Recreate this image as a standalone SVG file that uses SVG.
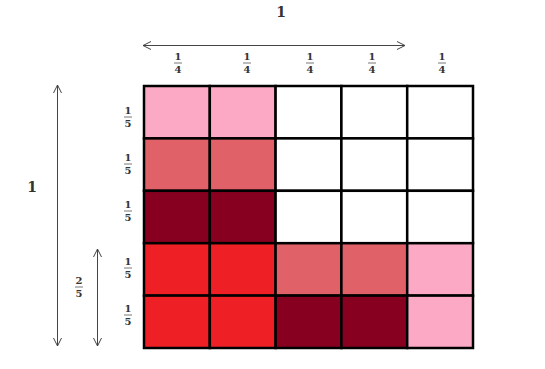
<svg xmlns="http://www.w3.org/2000/svg" width="545" height="369" viewBox="0 0 545 369">
<defs>
<style>
.t{font-family:"DejaVu Serif","Liberation Serif",serif;font-weight:bold;fill:#333;text-anchor:middle}
.f{font-size:10px}
.big{font-size:14px}
.bar{stroke:#555;stroke-width:0.8}
.ar{stroke:#444;stroke-width:1;fill:none}
.c{stroke:#000;stroke-width:2.5}
.lp{fill:#FBA9C5}.md{fill:#E06167}.dk{fill:#880020}.rd{fill:#EE2026}.wh{fill:#fff}
</style>
<marker id="ah" viewBox="0 0 10 10" refX="9" refY="5" markerWidth="10" markerHeight="10" markerUnits="userSpaceOnUse" orient="auto-start-reverse">
<path d="M1,1 L9,5 L1,9" fill="none" stroke="#444" stroke-width="1"/>
</marker>
</defs>
<rect width="545" height="369" fill="#fff"/>
<g id="connectors">
<line class="ar" x1="143" y1="45.5" x2="405" y2="45.5" marker-start="url(#ah)" marker-end="url(#ah)"/>
<line class="ar" x1="57.5" y1="85" x2="57.5" y2="346" marker-start="url(#ah)" marker-end="url(#ah)"/>
<line class="ar" x1="97.5" y1="249" x2="97.5" y2="346" marker-start="url(#ah)" marker-end="url(#ah)"/>
</g>
<g id="grid">
<rect class="c lp" x="144" y="86" width="65.8" height="52.4"/>
<rect class="c lp" x="209.8" y="86" width="65.8" height="52.4"/>
<rect class="c wh" x="275.6" y="86" width="65.8" height="52.4"/>
<rect class="c wh" x="341.4" y="86" width="65.8" height="52.4"/>
<rect class="c wh" x="407.2" y="86" width="65.8" height="52.4"/>
<rect class="c md" x="144" y="138.4" width="65.8" height="52.4"/>
<rect class="c md" x="209.8" y="138.4" width="65.8" height="52.4"/>
<rect class="c wh" x="275.6" y="138.4" width="65.8" height="52.4"/>
<rect class="c wh" x="341.4" y="138.4" width="65.8" height="52.4"/>
<rect class="c wh" x="407.2" y="138.4" width="65.8" height="52.4"/>
<rect class="c dk" x="144" y="190.8" width="65.8" height="52.4"/>
<rect class="c dk" x="209.8" y="190.8" width="65.8" height="52.4"/>
<rect class="c wh" x="275.6" y="190.8" width="65.8" height="52.4"/>
<rect class="c wh" x="341.4" y="190.8" width="65.8" height="52.4"/>
<rect class="c wh" x="407.2" y="190.8" width="65.8" height="52.4"/>
<rect class="c rd" x="144" y="243.2" width="65.8" height="52.4"/>
<rect class="c rd" x="209.8" y="243.2" width="65.8" height="52.4"/>
<rect class="c md" x="275.6" y="243.2" width="65.8" height="52.4"/>
<rect class="c md" x="341.4" y="243.2" width="65.8" height="52.4"/>
<rect class="c lp" x="407.2" y="243.2" width="65.8" height="52.4"/>
<rect class="c rd" x="144" y="295.6" width="65.8" height="52.4"/>
<rect class="c rd" x="209.8" y="295.6" width="65.8" height="52.4"/>
<rect class="c dk" x="275.6" y="295.6" width="65.8" height="52.4"/>
<rect class="c dk" x="341.4" y="295.6" width="65.8" height="52.4"/>
<rect class="c lp" x="407.2" y="295.6" width="65.8" height="52.4"/>
</g>
<g id="labels">
<text class="t big" x="281" y="17">1</text>
<text class="t big" x="32" y="192">1</text>
<g id="top-fractions">
<text class="t f" x="178" y="60">1</text><line class="bar" x1="174" y1="63" x2="182" y2="63"/><text class="t f" x="178" y="73">4</text>
<text class="t f" x="247" y="60">1</text><line class="bar" x1="243" y1="63" x2="251" y2="63"/><text class="t f" x="247" y="73">4</text>
<text class="t f" x="310" y="60">1</text><line class="bar" x1="306" y1="63" x2="314" y2="63"/><text class="t f" x="310" y="73">4</text>
<text class="t f" x="372" y="60">1</text><line class="bar" x1="368" y1="63" x2="376" y2="63"/><text class="t f" x="372" y="73">4</text>
<text class="t f" x="442" y="60">1</text><line class="bar" x1="438" y1="63" x2="446" y2="63"/><text class="t f" x="442" y="73">4</text>
</g>
<g id="left-fractions">
<text class="t f" x="128" y="114">1</text><line class="bar" x1="124" y1="117" x2="132" y2="117"/><text class="t f" x="128" y="127">5</text>
<text class="t f" x="128" y="161">1</text><line class="bar" x1="124" y1="164" x2="132" y2="164"/><text class="t f" x="128" y="174">5</text>
<text class="t f" x="128" y="208">1</text><line class="bar" x1="124" y1="211" x2="132" y2="211"/><text class="t f" x="128" y="221">5</text>
<text class="t f" x="128" y="265">1</text><line class="bar" x1="124" y1="268" x2="132" y2="268"/><text class="t f" x="128" y="278">5</text>
<text class="t f" x="128" y="312">1</text><line class="bar" x1="124" y1="315" x2="132" y2="315"/><text class="t f" x="128" y="325">5</text>
<text class="t f" x="79" y="284">2</text><line class="bar" x1="75" y1="287" x2="83" y2="287"/><text class="t f" x="79" y="297">5</text>
</g>
</g>
</svg>
